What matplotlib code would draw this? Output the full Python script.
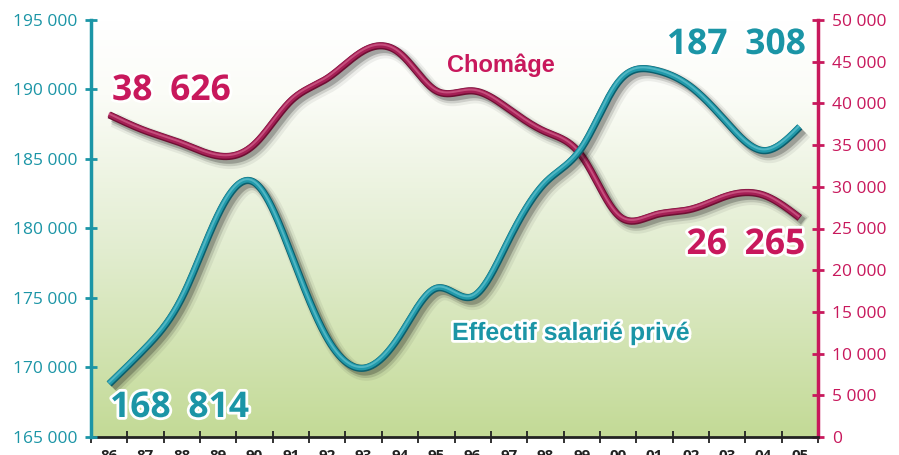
import numpy as np
import matplotlib.pyplot as plt
import matplotlib.patheffects as pe
from matplotlib import font_manager
from matplotlib.colors import LinearSegmentedColormap

# data
years = ['86', '87', '88', '89', '90', '91', '92', '93', '94', '95',
         '96', '97', '98', '99', '00', '01', '02', '03', '04', '05']
effectif = [168814, 171400, 175000, 181000, 183300, 178200, 172100, 169950, 172300, 175700,
            175100, 179200, 183300, 185800, 190500, 191400, 190200, 187600, 185600, 187308]
chomage = [38626, 36700, 35200, 33700, 35100, 40300, 43000, 46300, 46000, 41500,
           41500, 39300, 36600, 33700, 26600, 26600, 27300, 28900, 29000, 26265]

left_ticks = [165000, 170000, 175000, 180000, 185000, 190000, 195000]
right_ticks = [0, 5000, 10000, 15000, 20000, 25000, 30000, 35000, 40000, 45000, 50000]

TEAL = '#1b95a6'
CRIMSON = '#c8185c'

installed = {f.name for f in font_manager.fontManager.ttflist}
narrow = 'Liberation Sans Narrow' if 'Liberation Sans Narrow' in installed else 'Liberation Sans'
plt.rcParams['font.family'] = ['Open Sans', 'DejaVu Sans']


def fmt(v, sep=' '):
    return '{:,}'.format(int(v)).replace(',', sep)


def smooth(y, n=40):
    # natural cubic spline through the yearly values (only for drawing)
    y = np.asarray(y, dtype=float)
    m = len(y)
    A = np.zeros((m, m))
    r = np.zeros(m)
    A[0, 0] = A[-1, -1] = 1
    for i in range(1, m - 1):
        A[i, i - 1], A[i, i], A[i, i + 1] = 1, 4, 1
        r[i] = 6 * (y[i + 1] - 2 * y[i] + y[i - 1])
    M = np.linalg.solve(A, r)
    xs, ys = [], []
    t = np.linspace(0, 1, n, endpoint=False)
    for i in range(m - 1):
        a, b = y[i], y[i + 1]
        seg = (1 - t) * a + t * b + ((1 - t) ** 3 - (1 - t)) * M[i] / 6 + (t ** 3 - t) * M[i + 1] / 6
        xs.append(i + t)
        ys.append(seg)
    xs.append([m - 1])
    ys.append([y[-1]])
    return np.concatenate(xs), np.concatenate(ys)


def tube(edge, hl):
    return [pe.SimpleLineShadow(offset=(3.5, -3.5), shadow_color='k', alpha=0.06, linewidth=11),
            pe.SimpleLineShadow(offset=(3, -3), shadow_color='k', alpha=0.12, linewidth=8),
            pe.SimpleLineShadow(offset=(2.5, -2.5), shadow_color='k', alpha=0.22, linewidth=5.5),
            pe.Stroke(linewidth=5.2, foreground=edge),
            pe.Stroke(offset=(-0.3, 0.4), linewidth=3.8),
            pe.Stroke(offset=(-0.4, 0.9), linewidth=1.4, foreground=hl, alpha=0.65)]


fig = plt.figure(figsize=(8.99, 4.55), dpi=100)
ax2 = fig.add_axes([91 / 899, 18 / 455, (818 - 91) / 899, (437 - 20) / 455])
ax = ax2.twinx()   # teal series drawn on top

# background gradient
cmap = LinearSegmentedColormap.from_list('bg', [(0, '#c3da96'), (0.45, '#e2edd0'),
                                                (0.82, '#fbfcf7'), (1, '#ffffff')])
grad = np.linspace(0, 1, 256).reshape(-1, 1)
ax2.imshow(grad, extent=[-0.5, 19.5, 0, 50000], origin='lower', aspect='auto',
           cmap=cmap, zorder=0)

x = np.arange(len(years))
xs, ys = smooth(chomage)
ax2.plot(xs, ys, color='#a41f55', lw=3.8, solid_capstyle='butt',
         path_effects=tube('#6e0f33', '#d76a93'), zorder=3)

xs, ys = smooth(effectif)
ax.plot(xs, ys, color='#2199aa', lw=3.8, solid_capstyle='butt',
        path_effects=tube('#0b5f6d', '#6cc6d2'), zorder=3)

for a in (ax, ax2):
    a.set_xlim(-0.5, 19.5)
    a.spines['top'].set_visible(False)
ax.set_ylim(165000, 195000)
ax2.set_ylim(0, 50000)

# left axis: effectif (twin axes moved to the left side)
ax.yaxis.set_label_position('left')
ax.yaxis.tick_left()
ax2.yaxis.set_label_position('right')
ax2.yaxis.tick_right()

ax.set_yticks(left_ticks)
ax.set_yticklabels([fmt(v) for v in left_ticks])
ax2.set_yticks(right_ticks)
ax2.set_yticklabels([fmt(v) for v in right_ticks])

ax2.set_xticks(x)
ax2.set_xticklabels(years, fontweight='bold', fontsize=11, color='#222222')
ax2.set_xticks(np.arange(-0.5, 20, 1), minor=True)
ax2.tick_params(axis='x', which='major', length=0, pad=9)
ax2.tick_params(axis='x', which='minor', length=8, width=1.3, direction='inout', color='#222222')
ax.tick_params(axis='y', length=8, width=2, direction='inout', colors=TEAL, labelsize=12.5, pad=6)
ax2.tick_params(axis='y', length=8, width=2, direction='inout', colors=CRIMSON, labelsize=12.5, pad=6)

ax.spines['left'].set_visible(True)
ax.spines['left'].set_color(TEAL)
ax.spines['left'].set_linewidth(2.5)
ax.spines['right'].set_visible(False)
ax.spines['bottom'].set_visible(False)
ax2.spines['left'].set_visible(False)
ax2.spines['right'].set_color(CRIMSON)
ax2.spines['right'].set_linewidth(2.5)
ax2.spines['bottom'].set_color('#222222')
ax2.spines['bottom'].set_linewidth(2)

halo = [pe.withStroke(linewidth=4, foreground='white')]
big = dict(fontsize=25.5, fontweight='bold', va='baseline', path_effects=halo)
gap = '\u2002'
fig.text(112 / 899, 1 - 100 / 455, fmt(chomage[0], gap), color=CRIMSON, ha='left', **big)
fig.text(805 / 899, 1 - 254 / 455, fmt(chomage[-1], gap), color=CRIMSON, ha='right', **big)
fig.text(110 / 899, 1 - 417 / 455, fmt(effectif[0], gap), color=TEAL, ha='left', **big)
fig.text(806 / 899, 1 - 54 / 455, fmt(effectif[-1], gap), color=TEAL, ha='right', **big)
fig.text(447 / 899, 1 - 72 / 455, 'Chomâge', color=CRIMSON, fontsize=17,
         fontweight='bold', family=narrow, va='baseline', ha='left')
fig.text(452 / 899, 1 - 340 / 455, 'Effectif salarié privé', color=TEAL, fontsize=18,
         fontweight='bold', family=narrow, va='baseline', ha='left', path_effects=halo)

fig.savefig('out.png', dpi=100)
